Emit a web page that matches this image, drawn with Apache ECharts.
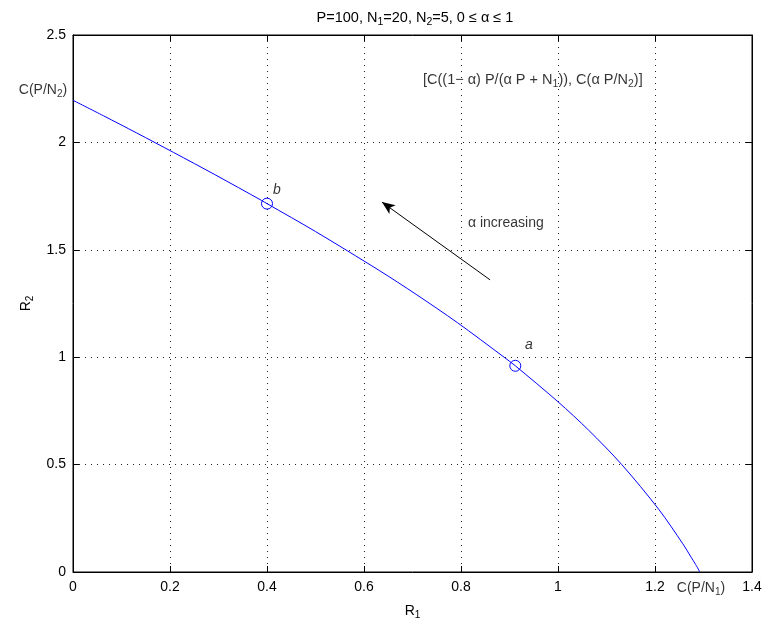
<!DOCTYPE html>
<html>
<head>
<meta charset="utf-8">
<script src="https://cdn.jsdelivr.net/npm/echarts@6/dist/echarts.min.js"></script>
<style>
  html, body { margin: 0; padding: 0; background: #fff; }
  #chart { width: 766px; height: 621px; }
</style>
</head>
<body>
<div id="chart"></div>
<script>
// Rate-region boundary, swept over the power split alpha from 0 to 1
const rateR1 = [1.2925, 1.2837, 1.2745, 1.2573, 1.2075, 1.1315, 1.0628, 1.0000, 0.9120, 0.8888,
                0.7925, 0.7075, 0.6315, 0.5000, 0.4000, 0.3888, 0.2925, 0.2075, 0.1315, 0.0628, 0.0000];
const rateR2 = [0.0000, 0.0352, 0.0688, 0.1315, 0.2925, 0.5000, 0.6610, 0.7925, 0.9600, 1.0000,
                1.1610, 1.2925, 1.4037, 1.5850, 1.7150, 1.7297, 1.8500, 1.9530, 2.0437, 2.1240, 2.1960];

// Marked operating points
const pointNames = ['a', 'b'];
const pointR1 = [0.912, 0.400];
const pointR2 = [0.960, 1.715];

// Axis ticks
const xTicks = [0, 0.2, 0.4, 0.6, 0.8, 1, 1.2, 1.4];
const yTicks = [0, 0.5, 1, 1.5, 2, 2.5];

// Direction arrow (tail, head)
const arrowFrom = [0.860, 1.360];
const arrowTo = [0.637, 1.722];

const FONT = '"Liberation Sans", Arial, Helvetica, sans-serif';
const TXT = 14;

const baseRich = {
  t: { fontSize: TXT, fontFamily: FONT, color: '#000', lineHeight: 20 },
  s: { fontSize: 10, fontFamily: FONT, color: '#000', padding: [9, 0, 0, 0] },
  i: { fontSize: TXT, fontFamily: FONT, color: '#000', fontStyle: 'italic', lineHeight: 20 },
  T: { fontSize: 14.5, fontFamily: FONT, color: '#000', fontWeight: 'normal', lineHeight: 20 },
  S: { fontSize: 10.5, fontFamily: FONT, color: '#000', fontWeight: 'normal', padding: [9, 0, 0, 0] }
};

const annotations = [
  { value: [-0.012, 2.244], text: '{t|C(P/N}{s|2}{t|)}', align: 'right' },
  { value: [1.245, -0.0745], text: '{t|C(P/N}{s|1}{t|)}', align: 'left' },
  { value: [0.7216, 2.29], text: '{T|[C((1\u2212 \u03b1) P/(\u03b1 P + N}{S|1}{T|)), C(\u03b1 P/N}{S|2}{T|)]}', align: 'left' },
  { value: [0.8144, 1.625], text: '{t|\u03b1 increasing}', align: 'left' },
  { value: [0.4206, 1.776], text: '{i|' + pointNames[1] + '}', align: 'center' },
  { value: [0.940, 1.058], text: '{i|' + pointNames[0] + '}', align: 'center' }
];

const curve = rateR1.map((x, i) => [x, rateR2[i]]);
const marks = pointR1.map((x, i) => [x, pointR2[i]]);

function axisBase() {
  return {
    axisLine: { show: true, onZero: false, lineStyle: { color: '#000', width: 1 } },
    axisTick: { show: true, inside: true, length: 6, lineStyle: { color: '#000', width: 1 } }
  };
}

const chart = echarts.init(document.getElementById('chart'), null, { renderer: 'canvas' });
chart.setOption({
  animation: false,
  backgroundColor: '#fff',
  title: {
    text: '{T|P=100, N}{S|1}{T|=20, N}{S|2}{T|=5, 0 \u2264 \u03b1 \u2264 1}',
    left: 410, top: 3, textAlign: 'center',
    textStyle: { fontWeight: 'normal', rich: baseRich }
  },
  grid: {
    left: 73, right: 14, top: 35, bottom: 49, containLabel: false, outerBoundsMode: 'none',
    show: true, borderColor: '#000', borderWidth: 1, backgroundColor: 'transparent'
  },
  xAxis: [
    Object.assign(axisBase(), {
      type: 'value', min: xTicks[0], max: xTicks[xTicks.length - 1], interval: 0.2,
      position: 'bottom',
      name: '{t|R}{s|1}', nameLocation: 'middle', nameGap: 29,
      nameTextStyle: { rich: baseRich },
      axisLabel: { fontSize: TXT, fontFamily: FONT, color: '#000', margin: 8 },
      splitLine: { show: true, lineStyle: { color: '#222', type: [1, 5], width: 1 } }
    }),
    Object.assign(axisBase(), {
      type: 'value', min: xTicks[0], max: xTicks[xTicks.length - 1], interval: 0.2,
      position: 'top', axisLabel: { show: false }, splitLine: { show: false }
    })
  ],
  yAxis: [
    Object.assign(axisBase(), {
      type: 'value', min: yTicks[0], max: yTicks[yTicks.length - 1], interval: 0.5,
      position: 'left',
      name: '{t|R}{s|2}', nameLocation: 'middle', nameGap: 25, nameRotate: 90,
      nameTextStyle: { rich: baseRich },
      axisLabel: { fontSize: TXT, fontFamily: FONT, color: '#000', margin: 7 },
      splitLine: { show: true, lineStyle: { color: '#222', type: [1, 5], width: 1 } }
    }),
    Object.assign(axisBase(), {
      type: 'value', min: yTicks[0], max: yTicks[yTicks.length - 1], interval: 0.5,
      position: 'right', axisLabel: { show: false }, splitLine: { show: false }
    })
  ],
  series: [
    {
      type: 'line', name: 'boundary', data: curve, smooth: 0.3, showSymbol: false,
      lineStyle: { color: '#0000ff', width: 1 }, clip: true, z: 3
    },
    {
      type: 'scatter', name: 'points', data: marks, symbol: 'circle', symbolSize: 11,
      itemStyle: { color: 'rgba(0,0,0,0)', borderColor: '#0000ff', borderWidth: 1, opacity: 1 }, z: 4
    },
    {
      type: 'scatter', name: 'annotations', clip: false, symbolSize: 0, silent: true,
      data: annotations.map(a => ({
        value: a.value,
        label: {
          show: true, position: 'inside', formatter: a.text, align: a.align,
          verticalAlign: 'middle', color: '#000', rich: baseRich
        }
      })),
      markLine: {
        silent: true, animation: false,
        symbol: ['none', 'arrow'], symbolSize: [8, 13],
        label: { show: false },
        lineStyle: { color: '#000', width: 1, type: 'solid' },
        data: [[{ coord: arrowFrom }, { coord: arrowTo }]]
      },
      z: 5
    }
  ]
});
</script>
</body>
</html>
